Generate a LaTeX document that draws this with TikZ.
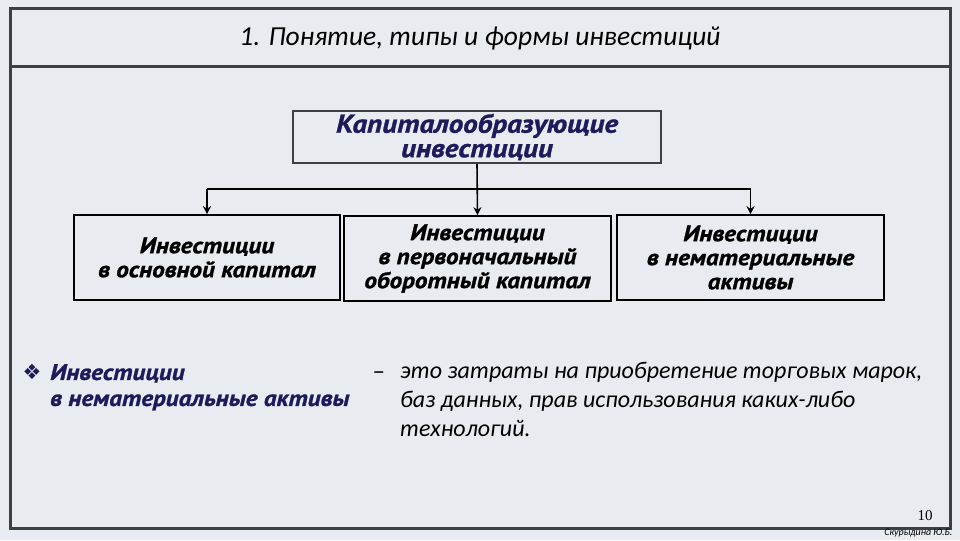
\documentclass[tikz,border=0pt]{standalone}
\usepackage{fontspec}
\setmainfont{Carlito}
\newfontfamily\boxfont[FakeStretch=1.12,BoldItalicFeatures={FakeBold=1.2}]{PT Sans}
\newfontfamily\signfont{Liberation Serif}
\newfontfamily\symfont{DejaVu Sans}
\usetikzlibrary{positioning,arrows.meta}
\definecolor{slidebg}{HTML}{E8ECF0}
\definecolor{framegray}{HTML}{3C4045}
\definecolor{navytext}{HTML}{1E1B5C}
\tikzset{
  invbox/.style={draw=black,line width=1.6pt,minimum width=266pt,minimum height=85pt,
    align=center,font=\boxfont\bfseries\itshape\fontsize{22.5}{24}\selectfont},
  feed/.style={line width=1.6pt,-{Stealth[length=8pt,width=8pt]}},
}
\begin{document}
\begin{tikzpicture}[x=1pt,y=-1pt]
	\fill [slidebg] (0,0) rectangle (960,540);
	\draw [framegray,line width=3pt] (10,9) rectangle (950,528);
	\draw [framegray,line width=3pt] (10,66) -- (950,66);
	\node (title) at (480,38) {\fontsize{27.5}{28}\selectfont\itshape 1. Понятие, типы и формы инвестиций};
	% top box
	\node [draw=framegray,line width=2.2pt,minimum width=368pt,minimum height=52pt,align=center,inner ysep=1pt,
	  text=navytext,font=\boxfont\bfseries\itshape\fontsize{26}{24.5}\selectfont] (capital) at (477,137)
	  {Капиталообразующие\\инвестиции};
	% three kinds
	\node [invbox] (fixed) at (207,257.5) {Инвестиции\\в основной капитал};
	\node [invbox,minimum width=267pt] (working) at (477.5,258.5) {Инвестиции\\в первоначальный\\оборотный капитал};
	\node [invbox,minimum width=267pt] (intang) at (750.5,257.5) {Инвестиции\\в нематериальные\\активы};
	\coordinate (busL) at (fixed.north |- 0,189);
	\coordinate (busR) at (intang.north |- 0,189);
	\draw [line width=1.6pt] (busL) -- (busR);
	\draw [feed] (capital.south) -- (working.north);
	\draw [feed] (busL) -- (fixed.north);
	\draw [feed] (busR) -- (intang.north);
	% definition
	\node [anchor=west,text=navytext,font=\symfont\fontsize{21}{22}\selectfont] (bullet) at (19,372) {❖};
	\node [anchor=north west,align=left,text=navytext,inner sep=0pt,
	  font=\boxfont\bfseries\itshape\fontsize{22.5}{26}\selectfont] (term) at (50,364)
	  {Инвестиции\\в нематериальные активы};
	\node [anchor=west,font=\fontsize{25}{25}\selectfont] (dash) at (369,376) {–};
	\node [anchor=north west,align=left,inner sep=0pt,font=\itshape\fontsize{24}{29}\selectfont] (meaning) at (400,362)
	  {это затраты на приобретение торговых марок,\\баз данных, прав использования каких-либо\\технологий.};
	\node [font=\signfont\fontsize{15}{15}\selectfont] (pagenum) at (925,516) {10};
	\node [anchor=east,font=\itshape\fontsize{10}{10}\selectfont] (sign) at (956,533) {Скурыдина Ю.Б.};
\end{tikzpicture}
\end{document}
